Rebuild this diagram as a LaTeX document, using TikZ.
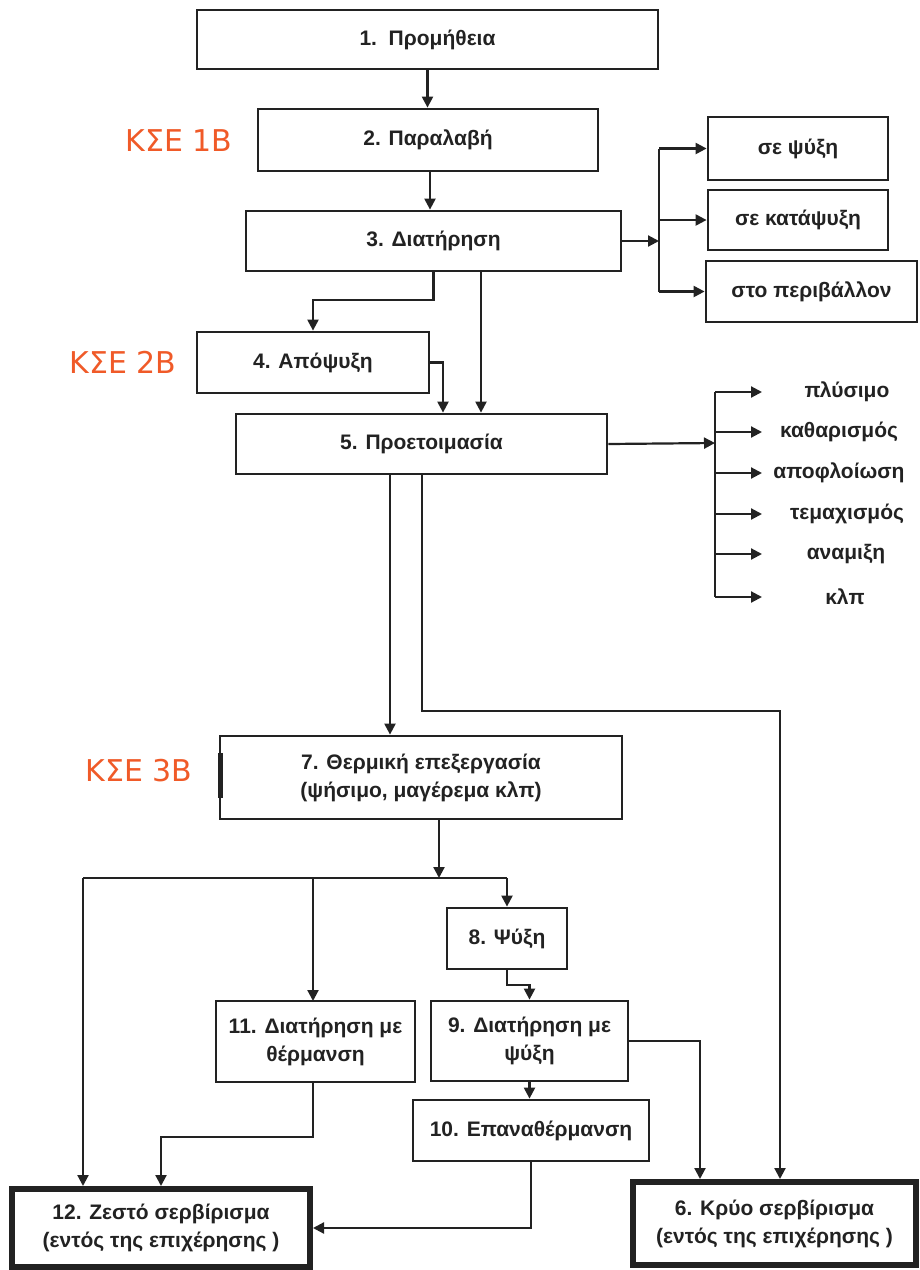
\documentclass[tikz,border=0pt]{standalone}
\usepackage{fontspec}
\setmainfont{Liberation Sans}
\newfontfamily\labfont{DejaVu Sans}
\usetikzlibrary{arrows.meta}
\definecolor{kseorange}{HTML}{F05A28}
\definecolor{ink}{HTML}{222222}
\begin{document}
\begin{tikzpicture}[x=1pt,y=-1pt,
 box/.style={draw=ink, line width=2.8pt, rectangle, inner sep=0pt, align=center,
   font=\bfseries\fontsize{21}{28}\selectfont, text=ink},
 bigbox/.style={box, line width=6pt},
 conn/.style={draw=ink, line width=2.2pt},
 arr/.style={conn, -{Triangle[length=11pt,width=11pt]}},
 kse/.style={font=\labfont\fontsize{30}{30}\selectfont, text=kseorange},
 item/.style={font=\bfseries\fontsize{21}{24}\selectfont, text=ink, inner sep=0pt}
]
\useasboundingbox[fill=white] (0,0) rectangle (920,1270);

% main boxes
\node[box, minimum width=461pt, minimum height=59pt] (n1) at (427.5,39.5) {1.\ \ Προμήθεια};
\node[box, minimum width=340pt, minimum height=62pt] (n2) at (428,140) {2. Παραλαβή};
\node[box, minimum width=375pt, minimum height=60pt] (n3) at (433.5,241) {3. Διατήρηση};
\node[box, minimum width=180pt, minimum height=63pt] (r1) at (798,148.5) {σε ψύξη};
\node[box, minimum width=180pt, minimum height=60pt] (r2) at (798,220) {σε κατάψυξη};
\node[box, minimum width=211pt, minimum height=61pt] (r3) at (811.5,291.5) {στο περιβάλλον};
\node[box, minimum width=232pt, minimum height=61pt] (n4) at (313,362.5) {4. Απόψυξη};
\node[box, minimum width=371pt, minimum height=60pt] (n5) at (421.5,444) {5. Προετοιμασία};
\node[box, minimum width=402pt, minimum height=83pt] (n7) at (421,777.5) {7. Θερμική επεξεργασία\\(ψήσιμο, μαγέρεμα κλπ)};
\node[box, minimum width=120pt, minimum height=61pt] (n8) at (507,938.5) {8. Ψύξη};
\node[box, minimum width=197pt, minimum height=80pt] (n9) at (529.5,1041) {9. Διατήρηση με\\ψύξη};
\node[box, minimum width=199pt, minimum height=81pt] (n11) at (315.5,1041.5) {11. Διατήρηση με\\θέρμανση};
\node[box, minimum width=236pt, minimum height=61pt] (n10) at (531,1130.5) {10. Επαναθέρμανση};
\node[bigbox, minimum width=283pt, minimum height=83pt] (n6) at (774.5,1223.5) {6. Κρύο σερβίρισμα\\(εντός της επιχέρησης )};
\node[bigbox, minimum width=298pt, minimum height=78pt] (n12) at (161,1228) {12. Ζεστό σερβίρισμα\\(εντός της επιχέρησης )};

% small thick mark on box 7
\draw[ink, line width=5pt] (220,753) -- (220,798);

% labels
\node[kse] (k1) at (179,141) {ΚΣΕ 1Β};
\node[kse] (k2) at (123,362) {ΚΣΕ 2Β};
\node[kse] (k3) at (139,771) {ΚΣΕ 3Β};

% connectors top
\draw[arr] (n1.south) -- (n1.south |- n2.north);
\draw[arr] ([xshift=2pt]n2.south) -- ([xshift=2pt]n2.south |- n3.north);

% storage branches
\coordinate (v3) at (659,241);
\draw[arr] (n3.east) -- (v3);
\draw[conn] (v3 |- r1.west) -- (v3 |- r3.west);
\draw[arr] (v3 |- r1.west) -- (r1.west);
\draw[arr] (v3 |- r2.west) -- (r2.west);
\draw[arr] (v3 |- r3.west) -- (r3.west);

% 3 -> 4, 3 -> 5, 4 -> 5
\draw[arr] (n3.south) -- (433.5,300) -| (n4.north);
\draw[arr] ([xshift=47.5pt]n3.south) -- ([xshift=47.5pt]n3.south |- n5.north);
\draw[arr] (n4.east) -| ([xshift=21.5pt]n5.north);

% preparation list
\coordinate (v5) at (715,443);
\draw[arr] (n5.east) -- (v5);
\draw[conn] (715,392) -- (715,597);
\foreach \y/\x/\t [count=\i] in {392/847/πλύσιμο, 432/839/καθαρισμός, 473/839/αποφλοίωση, 514/847/τεμαχισμός, 554/846/αναμιξη, 597/845/κλπ} {
  \node[item] (l\i) at (\x,\y) {\t};
  \coordinate (e\i) at (762,\y);
  \draw[arr] (715,\y) -- (e\i);
}

% 5 -> 7, 5 -> 6
\draw[arr] ([xshift=-31.5pt]n5.south) -- ([xshift=-31.5pt]n5.south |- n7.north);
\draw[arr] ([xshift=0.5pt]n5.south) -- (422,711) -| ([xshift=5.5pt]n6.north);

% 7 -> distribution
\coordinate (hL) at (83,878);
\coordinate (hR) at (507,878);
\draw[arr] ([xshift=18pt]n7.south) -- ([xshift=18pt]n7.south |- hL);
\draw[conn] (hL) -- (hR);
\draw[arr] (hR) -- (n8.north);
\draw[arr] (hL) -- (hL |- n12.north);
\draw[arr] (313,878) -- (313,1001);

% lower
\draw[arr] (n8.south) -- (507,985) -| (n9.north);
\draw[arr] (n9.south) -- (n9.south |- n10.north);
\draw[arr] (n9.east) -| ([xshift=-74.5pt]n6.north);
\draw[arr] ([xshift=-2.5pt]n11.south) -- (313,1137) -| (n12.north);
\draw[arr] (n10.south) |- (n12.east);
\end{tikzpicture}
\end{document}
